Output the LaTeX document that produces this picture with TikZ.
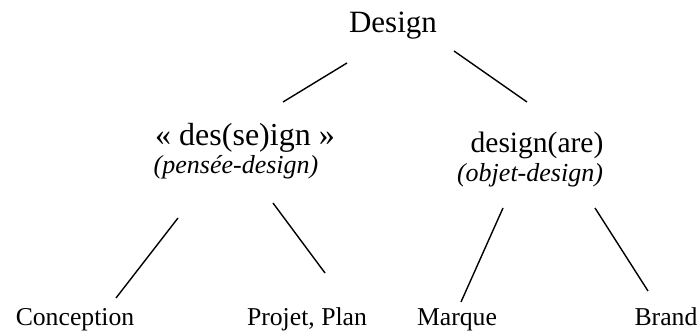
\documentclass[tikz,border=0pt]{standalone}
\usepackage{fontspec}
\setmainfont{Liberation Serif}

\begin{document}
\begin{tikzpicture}[x=1pt, y=-1pt,
    word/.style={anchor=base, inner sep=0pt, font=\fontsize{32}{36}\selectfont},
    gloss/.style={anchor=base, inner sep=0pt, font=\fontsize{26}{30}\selectfont\itshape},
    leaf/.style={anchor=base, inner sep=0pt, font=\fontsize{25.7}{30}\selectfont},
    branch/.style={line width=1.4pt}]
      \useasboundingbox (0,0) rectangle (699,336);

      \node[word, font=\fontsize{31}{36}\selectfont] (design) at (393,33) {Design};
      \node[word] (desein) at (245,146) {« des(se)ign »};
      \node[gloss] (pensee) at (236,174) {(pensée-design)};
      \node[word, font=\fontsize{29.5}{34}\selectfont] (designare) at (537,153) {design(are)};
      \node[gloss] (objet) at (530,182) {(objet-design)};
      \node[leaf] (conception) at (75,326) {Conception};
      \node[leaf] (projet) at (307,326) {Projet, Plan};
      \node[leaf] (marque) at (457,326) {Marque};
      \node[leaf] (brand) at (666,326) {Brand};

      \draw[branch] ([shift={(-46,30)}]design.base) -- ([shift={(38,-44)}]desein.base);
      \draw[branch] ([shift={(61,18)}]design.base) -- ([shift={(-10,-51)}]designare.base);
      \draw[branch] ([shift={(-58,44)}]pensee.base) -- ([shift={(41,-28)}]conception.base);
      \draw[branch] ([shift={(37,29)}]pensee.base) -- ([shift={(18,-53)}]projet.base);
      \draw[branch] ([shift={(-27,26)}]objet.base) -- ([shift={(4,-24)}]marque.base);
      \draw[branch] ([shift={(65,26)}]objet.base) -- ([shift={(-18,-35)}]brand.base);
    \end{tikzpicture}
\end{document}
